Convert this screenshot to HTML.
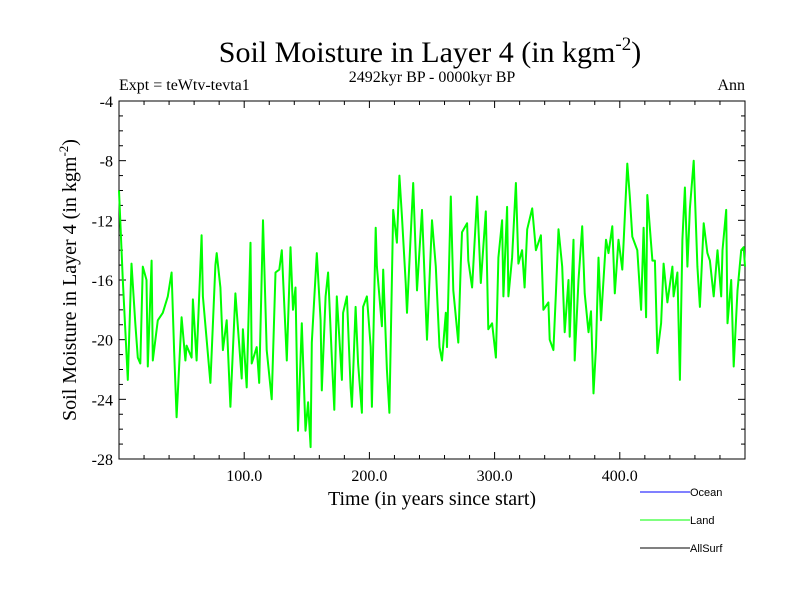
<!DOCTYPE html>
<html><head><meta charset="utf-8"><style>
body{margin:0;background:#fff;}
svg text{font-family:"Liberation Serif",serif;}
</style></head><body>
<svg id="chart" width="800" height="600" xmlns="http://www.w3.org/2000/svg">
<text x="430" y="62" font-size="30" text-anchor="middle">Soil Moisture in Layer 4 (in kgm<tspan dy="-12" font-size="19">-2</tspan><tspan dy="12">)</tspan></text>
<text x="432" y="82" font-size="16" text-anchor="middle">2492kyr BP - 0000kyr BP</text>
<text x="119" y="90" font-size="16">Expt = teWtv-tevta1</text>
<text x="745" y="90" font-size="16" text-anchor="end">Ann</text>
<text x="432" y="505" font-size="20" text-anchor="middle">Time (in years since start)</text>
<text transform="translate(76,280) rotate(-90)" font-size="20" text-anchor="middle">Soil Moisture in Layer 4 (in kgm<tspan dy="-8" font-size="13">-2</tspan><tspan dy="8">)</tspan></text>
<g id="axes"></g>
<g id="series"></g>
<g id="legend"></g>
</svg>
<script>
const years=[0,3,7,10,13,15,17,19,22,23,26,27,31,35,39,42,44,46,50,53,54,58,59,62,66,67,73,77,78,81,83,86,89,93,98,99,102,105,106,110,112,115,118,122,125,128,130,134,137,139,141,143,146,149,151,153,154,158,161,162,165,167,170,172,174,178,179,182,185,186,189,191,194,195,198,201,202,205,206,210,211,214,216,219,222,224,226,229,230,235,238,242,245,246,250,253,256,258,261,262,265,267,271,273,274,278,279,282,286,289,293,295,298,301,303,306,307,310,311,314,317,319,322,324,326,330,333,337,339,343,344,347,349,351,354,356,359,360,363,364,367,370,372,375,377,379,381,383,385,389,391,394,396,399,402,403,406,408,410,414,417,419,421,422,426,428,430,433,435,438,442,443,446,448,450,452,454,456,459,462,464,467,470,472,475,478,481,482,485,486,489,491,494,497,499,500];
const landValues=[-10.0,-16.0,-22.7,-14.9,-18.9,-21.2,-21.6,-15.1,-16.0,-21.8,-14.7,-21.4,-18.7,-18.2,-17.1,-15.5,-20.7,-25.2,-18.5,-21.4,-20.4,-21.2,-17.3,-21.4,-13.0,-17.1,-22.9,-15.0,-14.2,-16.5,-20.7,-18.7,-24.5,-16.9,-22.6,-19.3,-23.2,-13.5,-21.6,-20.5,-22.9,-12.0,-20.7,-24.0,-15.5,-15.3,-14.0,-21.4,-13.8,-18.0,-16.5,-26.1,-18.9,-26.1,-24.2,-27.2,-20.2,-14.2,-18.7,-23.4,-17.1,-15.5,-21.2,-24.7,-17.1,-22.7,-18.2,-17.1,-23.2,-24.5,-17.8,-21.6,-24.9,-17.8,-17.1,-20.5,-24.5,-12.5,-15.1,-19.1,-15.3,-22.0,-24.9,-11.3,-13.5,-9.0,-11.8,-16.2,-18.2,-9.5,-16.7,-11.3,-17.8,-20.0,-12.0,-15.1,-20.5,-21.4,-18.2,-20.5,-10.4,-16.7,-20.2,-14.9,-12.8,-12.2,-14.7,-16.5,-10.4,-16.2,-11.4,-19.3,-18.9,-21.2,-14.5,-12.0,-17.1,-11.1,-17.1,-14.5,-9.5,-14.9,-14.0,-16.5,-12.6,-11.2,-14.0,-13.0,-18.0,-17.5,-20.0,-20.7,-16.9,-12.6,-15.1,-19.5,-16.0,-19.8,-13.3,-21.4,-16.0,-12.4,-16.9,-19.5,-18.1,-23.6,-20.5,-14.5,-18.7,-13.3,-14.2,-12.4,-16.9,-13.3,-15.3,-13.5,-8.2,-10.4,-13.1,-14.0,-18.0,-12.5,-18.5,-10.3,-14.7,-14.7,-20.9,-18.9,-14.9,-17.5,-15.1,-17.1,-15.5,-22.7,-13.3,-9.8,-15.1,-11.2,-8.0,-15.1,-17.8,-12.2,-14.2,-14.7,-17.1,-14.0,-17.1,-14.0,-11.3,-18.9,-16.0,-21.8,-16.7,-14.0,-13.8,-15.1];
const yTicks=[-4,-8,-12,-16,-20,-24,-28];
const xTicks=[100,200,300,400];
const xTickLabels=["100.0","200.0","300.0","400.0"];
const legendNames=["Ocean","Land","AllSurf"];
const legendColors=["#0000ff","#00ff00","#000000"];

const L=119,R=745,T=101,B=459,XMIN=0,XMAX=500,YMIN=-28,YMAX=-4;
const sx=v=>L+(v-XMIN)/(XMAX-XMIN)*(R-L);
const sy=v=>B-(v-YMIN)/(YMAX-YMIN)*(B-T);
const NS="http://www.w3.org/2000/svg";
function mk(tag,attrs,parent){const e=document.createElementNS(NS,tag);for(const k in attrs)e.setAttribute(k,attrs[k]);parent.appendChild(e);return e;}
const ax=document.getElementById('axes');
const frame=mk('rect',{x:L,y:T,width:R-L,height:B-T,fill:'none',stroke:'#000','stroke-width':1},ax);


for(let v=YMIN;v<=YMAX;v+=1){
  const major=(v%4===0);const len=major?7:4;const y=sy(v);
  mk('line',{x1:L,x2:L+len,y1:y,y2:y,stroke:'#000'},ax);
  mk('line',{x1:R,x2:R-len,y1:y,y2:y,stroke:'#000'},ax);
}
yTicks.forEach(v=>{
  const t=mk('text',{x:L-6,y:sy(v)+6,'font-size':16,'text-anchor':'end'},ax);
  t.textContent=v;
  
  
});
for(let v=20;v<XMAX;v+=20){
  const major=(v%100===0);const len=major?7:4;const x=sx(v);
  mk('line',{x1:x,x2:x,y1:B,y2:B-len,stroke:'#000'},ax);
  mk('line',{x1:x,x2:x,y1:T,y2:T+len,stroke:'#000'},ax);
}
xTicks.forEach((v,i)=>{
  const t=mk('text',{x:sx(v),y:B+22,'font-size':16,'text-anchor':'middle'},ax);
  t.textContent=xTickLabels[i];
  
  
});
const pts=years.map((y,i)=>sx(y).toFixed(1)+','+sy(landValues[i]).toFixed(1)).join(' ');
const line=mk('polyline',{points:pts,fill:'none',stroke:'#00ff00','stroke-width':2,'stroke-linejoin':'round'},document.getElementById('series'));


const lg=document.getElementById('legend');
legendNames.forEach((n,i)=>{
  const y=492+i*28;
  const l=mk('line',{x1:640,x2:690,y1:y,y2:y,stroke:legendColors[i],'stroke-width':1},lg);
  
  
  const t=mk('text',{x:690,y:y+4,'font-size':11,style:'font-family:"Liberation Sans",sans-serif'},lg);
  t.textContent=n;
  
  
});
</script>
</body></html>
